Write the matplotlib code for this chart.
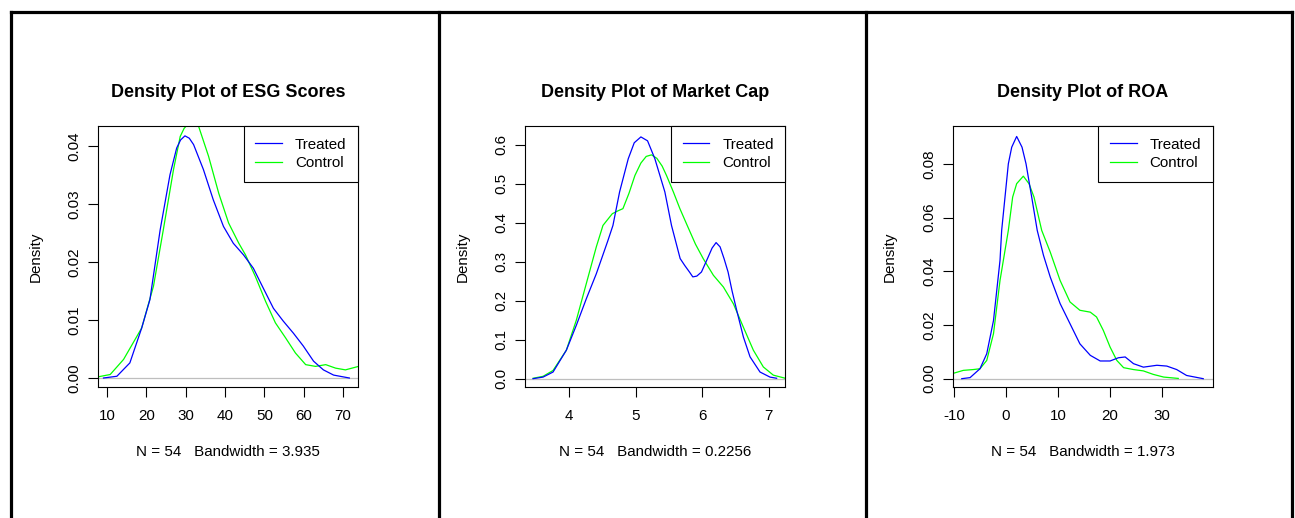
import matplotlib
matplotlib.use("Agg")
import matplotlib.pyplot as plt
from matplotlib.lines import Line2D

plt.rcParams['font.family'] = ['Liberation Sans', 'DejaVu Sans']

# density curves (x, density)
esg_treated_x = [9.1, 12.5, 15.8, 18.8, 20.9, 23.5, 26.0, 27.7, 28.7, 29.8, 30.9, 32.0, 34.5,
                 37.0, 39.6, 42.1, 44.7, 47.2, 49.7, 52.3, 54.8, 57.4, 59.9, 62.5, 65.0, 67.6,
                 71.6]
esg_treated_y = [0.0, 0.0003, 0.0026, 0.0086, 0.0135, 0.0255, 0.035, 0.0396, 0.041, 0.0417,
                 0.0413, 0.0402, 0.0359, 0.0307, 0.0261, 0.0232, 0.0212, 0.0189, 0.0155, 0.012,
                 0.0098, 0.0077, 0.0055, 0.0029, 0.0014, 0.0005, 0.0]
esg_control_x = [7.7, 10.8, 14.2, 18.8, 21.8, 24.3, 26.9, 28.6, 29.6, 30.7, 32.0, 33.3, 35.8,
                 38.4, 40.9, 43.5, 45.2, 47.7, 50.3, 52.8, 55.4, 57.9, 60.5, 63.0, 65.6, 68.1,
                 70.6, 74.5]
esg_control_y = [0.0002, 0.0006, 0.0032, 0.0086, 0.0158, 0.0255, 0.0359, 0.0416, 0.043, 0.0438,
                 0.0438, 0.0433, 0.0382, 0.0318, 0.0267, 0.0232, 0.0212, 0.0175, 0.0132, 0.0095,
                 0.0069, 0.0043, 0.0023, 0.002, 0.0023, 0.0017, 0.0014, 0.0021]

mcap_treated_x = [3.46, 3.61, 3.76, 3.96, 4.11, 4.26, 4.41, 4.49, 4.58, 4.66, 4.76, 4.89, 4.98,
                  5.08, 5.18, 5.29, 5.44, 5.54, 5.67, 5.74, 5.81, 5.86, 5.92, 5.99, 6.08, 6.15,
                  6.21, 6.27, 6.33, 6.39, 6.45, 6.52, 6.62, 6.72, 6.87, 7.02, 7.12]
mcap_treated_y = [0.0, 0.004, 0.017, 0.073, 0.137, 0.205, 0.269, 0.308, 0.352, 0.393, 0.479,
                  0.564, 0.605, 0.620, 0.610, 0.564, 0.479, 0.393, 0.308, 0.29, 0.2735, 0.261,
                  0.263, 0.2735, 0.3077, 0.335, 0.349, 0.338, 0.3077, 0.2735, 0.225, 0.175,
                  0.107, 0.056, 0.017, 0.004, 0.001]
mcap_control_x = [3.46, 3.61, 3.76, 3.96, 4.11, 4.26, 4.41, 4.51, 4.65, 4.73, 4.81, 4.90, 4.99,
                  5.08, 5.16, 5.24, 5.32, 5.40, 5.465, 5.57, 5.666, 5.776, 5.90, 6.017, 6.17,
                  6.32, 6.47, 6.62, 6.77, 6.92, 7.07, 7.25]
mcap_control_y = [0.001, 0.006, 0.021, 0.073, 0.15, 0.244, 0.338, 0.393, 0.423, 0.43, 0.436,
                  0.475, 0.521, 0.553, 0.570, 0.574, 0.565, 0.545, 0.521, 0.478, 0.436, 0.393,
                  0.345, 0.3077, 0.265, 0.235, 0.192, 0.132, 0.073, 0.03, 0.009, 0.001]

roa_treated_x = [-8.5, -6.9, -5.0, -3.7, -2.4, -1.15, -0.83, -0.19, 0.45, 1.1, 2.05, 3.08, 3.85,
                 4.94, 6.0, 7.2, 8.5, 10.4, 12.3, 14.2, 16.2, 18.1, 20.0, 21.6, 22.9, 24.5,
                 26.4, 29.0, 30.9, 32.8, 34.7, 37.9]
roa_treated_y = [0.0, 0.0004, 0.0037, 0.0093, 0.0217, 0.0441, 0.0553, 0.0677, 0.0801, 0.0863,
                 0.0903, 0.0863, 0.0801, 0.0677, 0.0553, 0.046, 0.0379, 0.028, 0.0205, 0.013,
                 0.0087, 0.0066, 0.0066, 0.0078, 0.0081, 0.0056, 0.0043, 0.005, 0.0047, 0.0034,
                 0.0012, 0.0]
roa_control_x = [-10.3, -8.2, -6.3, -5.0, -3.7, -2.4, -1.15, 0.45, 1.28, 2.05, 3.33, 4.42,
                 5.38, 6.86, 8.5, 10.4, 12.3, 14.2, 16.2, 17.4, 18.7, 20.0, 21.3, 22.6, 24.5,
                 26.4, 28.3, 30.3, 33.1]
roa_control_y = [0.0019, 0.0031, 0.0034, 0.0037, 0.0068, 0.0168, 0.0366, 0.0553, 0.0677,
                 0.0727, 0.0755, 0.0727, 0.0677, 0.0553, 0.0472, 0.0366, 0.0286, 0.0255, 0.0248,
                 0.023, 0.018, 0.0118, 0.0068, 0.0041, 0.0034, 0.0029, 0.0016, 0.0006, 0.0001]

titles = ["Density Plot of ESG Scores", "Density Plot of Market Cap", "Density Plot of ROA"]
subtitles = ["N = 54   Bandwidth = 3.935", "N = 54   Bandwidth = 0.2256",
             "N = 54   Bandwidth = 1.973"]
x_ticks = [[10, 20, 30, 40, 50, 60, 70], [4, 5, 6, 7], [-10, 0, 10, 20, 30]]
y_ticks = [[0.0, 0.01, 0.02, 0.03, 0.04], [0.0, 0.1, 0.2, 0.3, 0.4, 0.5, 0.6],
           [0.0, 0.02, 0.04, 0.06, 0.08]]
y_fmt = ["{:.2f}", "{:.1f}", "{:.2f}"]
x_lims = [(7.7, 73.8), (3.343, 7.25), (-10.26, 39.7)]
y_lims = [(-0.00155, 0.0434), (-0.0214, 0.648), (-0.0031, 0.0942)]

curves = [
    (esg_treated_x, esg_treated_y, esg_control_x, esg_control_y),
    (mcap_treated_x, mcap_treated_y, mcap_control_x, mcap_control_y),
    (roa_treated_x, roa_treated_y, roa_control_x, roa_control_y),
]

W, H = 1295, 518
fig = plt.figure(figsize=(W / 100, H / 100), dpi=100)

fs = 10.9
for i in range(3):
    left = 98 + 427.3 * i
    ax = fig.add_axes([left / W, 1 - 387 / H, 260 / W, 261 / H])
    tx, ty, cx, cy = curves[i]
    ax.axhline(0, color="#BEBEBE", lw=0.9, zorder=1)
    ax.plot(tx, ty, color="#0000FF", lw=0.9, label="Treated", zorder=3)
    ax.plot(cx, cy, color="#00FF00", lw=0.9, label="Control", zorder=2)
    ax.set_xlim(*x_lims[i])
    ax.set_ylim(*y_lims[i])
    ax.set_xticks(x_ticks[i])
    ax.set_xticklabels([str(v) for v in x_ticks[i]])
    ax.set_yticks(y_ticks[i])
    ax.set_yticklabels([y_fmt[i].format(v) for v in y_ticks[i]], rotation=90, va="center")
    ax.tick_params(axis="both", direction="out", length=7, width=0.8, labelsize=fs)
    ax.tick_params(axis="x", pad=9)
    ax.tick_params(axis="y", pad=5)
    for s in ax.spines.values():
        s.set_linewidth(0.8)
    ax.set_title(titles[i], fontsize=13, fontweight="bold", pad=21)
    ax.set_xlabel(subtitles[i], fontsize=fs, labelpad=16)
    ax.set_ylabel("Density", fontsize=fs, labelpad=18)
    leg = ax.legend(loc="upper right", fontsize=fs, fancybox=False, framealpha=1,
                    edgecolor="black", borderaxespad=0, borderpad=0.77, labelspacing=0.28,
                    handlelength=1.75, handletextpad=0.85)
    leg.get_frame().set_linewidth(0.8)

# outer frame lines
frame_kw = dict(color="black", lw=2.3, transform=fig.transFigure, solid_capstyle="projecting")
fig.add_artist(Line2D([11.5 / W, 1291.5 / W], [1 - 11.5 / H, 1 - 11.5 / H], **frame_kw))
for xp in [11.5, 438.5, 865.5, 1291.5]:
    fig.add_artist(Line2D([xp / W, xp / W], [0, 1 - 11.5 / H], **frame_kw))

fig.savefig("out.png", dpi=100)
